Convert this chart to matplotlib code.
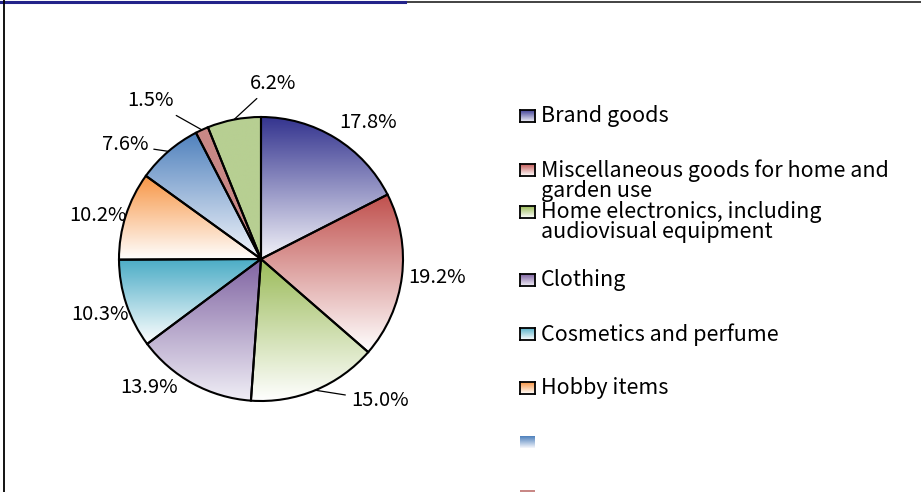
import numpy as np
import matplotlib

matplotlib.use("Agg")
import matplotlib.pyplot as plt
from matplotlib.colors import LinearSegmentedColormap
from matplotlib.lines import Line2D

plt.rcParams["font.family"] = ["Noto Sans CJK JP", "DejaVu Sans"]

# data
categories = [
    "Brand goods",
    "Miscellaneous goods for home and\ngarden use",
    "Home electronics, including\naudiovisual equipment",
    "Clothing",
    "Cosmetics and perfume",
    "Hobby items",
    "",
    "",
    "",
]
shares = [17.8, 19.2, 15.0, 13.9, 10.3, 10.2, 7.6, 1.5, 6.2]
top_colors = ["#34348f", "#c0504d", "#9bbb59", "#8064a2", "#4bacc6",
              "#f79646", "#4f81bd", "#c98886", "#b7cf92"]
bottom_colors = ["#f3f3f9", "#ffffff", "#ffffff", "#f0eef6", "#ffffff",
                 "#ffffff", "#f4f6fb", "#c98886", "#b7cf92"]

W, H = 921, 492
fig = plt.figure(figsize=(W / 100, H / 100), dpi=100, facecolor="white")

# pie axes: centre (261, 259) px, radius 142 px
cx, cy, R = 261, 259, 142
ax = fig.add_axes([(cx - R) / W, (H - cy - R) / H, 2 * R / W, 2 * R / H])

wedges, _ = ax.pie(shares, startangle=90, counterclock=False,
                   wedgeprops=dict(facecolor="none", edgecolor="black", linewidth=1.5))

for w, c0, c1 in zip(wedges, top_colors, bottom_colors):
    w.set_zorder(3)
    bb = w.get_path().get_extents()
    cmap = LinearSegmentedColormap.from_list("g", [c1, c0])
    grad = np.linspace(0, 1, 256).reshape(-1, 1)
    im = ax.imshow(grad, cmap=cmap, extent=[bb.x0, bb.x1, bb.y0, bb.y1],
                   origin="lower", aspect="auto", interpolation="bicubic", zorder=1)
    im.set_clip_path(w)

ax.set_xlim(-1, 1)
ax.set_ylim(-1, 1)
ax.axis("off")

# label placement: (radius, angle in degrees) for each label, leader line flag
label_pos = [(1.22, 52), (1.25, -6), (1.3, -50), (1.2, -131), (1.2, -161),
             (1.19, 165), (1.25, 140), (1.36, 125), (1.24, 86)]
leader = [False, False, True, False, False, False, True, True, True]

for w, v, (r, a), ld in zip(wedges, shares, label_pos, leader):
    mid = np.deg2rad((w.theta1 + w.theta2) / 2)
    tx, ty = r * np.cos(np.deg2rad(a)), r * np.sin(np.deg2rad(a))
    if ld:
        ax.annotate(f"{v:.1f}%", xy=(np.cos(mid), np.sin(mid)), xytext=(tx, ty),
                    ha="center", va="center", fontsize=14.5, zorder=5,
                    arrowprops=dict(arrowstyle="-", color="black", lw=0.9,
                                    shrinkA=2, shrinkB=0))
    else:
        ax.text(tx, ty, f"{v:.1f}%", ha="center", va="center", fontsize=14.5, zorder=5)

# legend drawn by hand to follow the original's uneven slots
leg_y = [116, 170, 212, 280, 334, 388, 442, 496, 550]
for lab, y, c0, c1 in zip(categories, leg_y, top_colors, bottom_colors):
    yf = 1 - y / H
    mw, mh = 15 / W, 12 / H
    cmap = LinearSegmentedColormap.from_list("g", [c1, c0])
    lax = fig.add_axes([520 / W, yf - mh / 2, mw, mh])
    lax.imshow(np.linspace(0, 1, 32).reshape(-1, 1), cmap=cmap, origin="lower",
               aspect="auto", extent=[0, 1, 0, 1])
    lax.set_xticks([])
    lax.set_yticks([])
    for s in lax.spines.values():
        s.set_visible(bool(lab))
        s.set_linewidth(1.3)
    if lab:
        fig.text(541 / W, yf + 11 / H, lab, ha="left", va="top", fontsize=15.5,
                 linespacing=0.9)

# frame lines
fig.add_artist(Line2D([0, 1], [1 - 1.5 / H] * 2, color="#222222", lw=1.2))
fig.add_artist(Line2D([0, 405 / W], [1 - 1.5 / H] * 2, color="#23238a", lw=2.2))
fig.add_artist(Line2D([3.5 / W] * 2, [0, 1], color="black", lw=1.3))

fig.savefig("out.png", dpi=100, facecolor="white")
